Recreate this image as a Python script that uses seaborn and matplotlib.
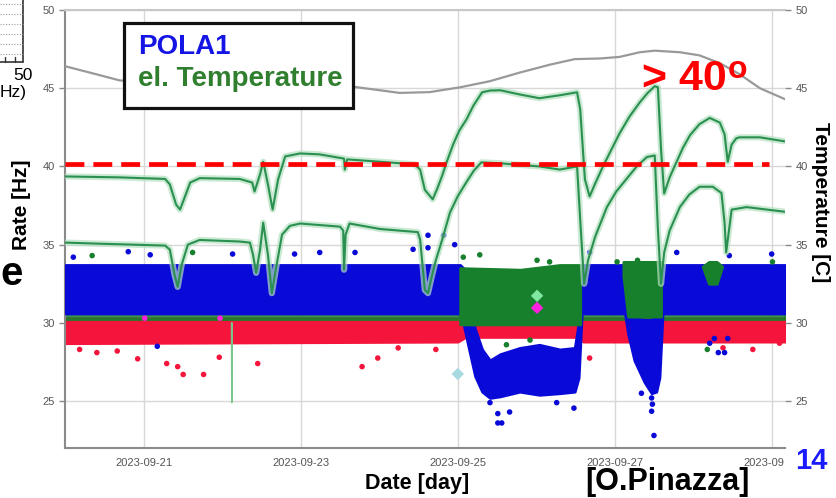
import numpy as np
import pandas as pd
import matplotlib
matplotlib.use("Agg")
import matplotlib.pyplot as plt
import matplotlib.dates as mdates
from matplotlib.patches import Rectangle
from matplotlib.lines import Line2D
import seaborn as sns

# ---------------- data (days since 2023-09-20 00:00) ----------------
BASE = pd.Timestamp("2023-09-20")

ambient_days = [0.0, 0.44, 0.69, 1.20, 2.22, 2.99, 3.66, 4.26, 4.64, 5.03, 5.41, 5.79,
                6.17, 6.49, 6.81, 7.06, 7.32, 7.51, 7.83, 8.08, 8.34, 8.59, 8.85, 9.17]
ambient_temp = [46.4, 45.83, 45.5, 45.3, 45.15, 45.05, 45.1, 44.7, 44.75, 45.06, 45.45, 46.0,
                46.5, 46.86, 46.9, 47.0, 47.3, 47.4, 47.3, 47.1, 46.6, 45.9, 45.0, 44.3]

elA_days = [0.0, 0.69, 1.27, 1.33, 1.41, 1.46, 1.51, 1.59, 1.71, 2.22, 2.38, 2.41, 2.48,
            2.52, 2.58, 2.64, 2.71, 2.80, 2.99, 3.24, 3.55, 3.56, 3.59, 4.01, 4.45, 4.52,
            4.58, 4.64, 4.68, 4.74, 4.80, 4.86, 4.94, 5.02, 5.11, 5.20, 5.31, 5.41, 5.54,
            5.79, 6.04, 6.30, 6.52, 6.56, 6.62, 6.68, 6.75, 6.85, 6.95, 7.06, 7.19, 7.32,
            7.42, 7.51, 7.55, 7.59, 7.63, 7.70, 7.78, 7.87, 7.96, 8.08, 8.21, 8.34, 8.40,
            8.44, 8.49, 8.55, 8.59, 8.85, 9.17]
elA_temp = [39.36, 39.3, 39.2, 38.85, 37.56, 37.24, 37.9, 38.97, 39.25, 39.2, 38.97, 38.4, 39.5,
            40.3, 38.85, 37.24, 39.17, 40.64, 40.83, 40.77, 40.5, 39.8, 40.45, 40.3, 40.13, 39.8,
            38.5, 38.14, 37.9, 38.6, 39.4, 40.3, 41.4, 42.3, 43.0, 43.9, 44.74, 44.85, 44.87,
            44.6, 44.36, 44.55, 44.74, 43.65, 39.17, 38.08, 38.9, 40.0, 41.0, 42.1, 43.2, 44.1,
            44.7, 45.13, 45.06, 41.1, 38.27, 39.3, 40.2, 41.2, 42.0, 42.7, 43.1, 42.8, 42.05,
            40.3, 41.4, 41.8, 41.86, 41.86, 41.6]

elB_days = [0.0, 0.44, 1.27, 1.33, 1.39, 1.43, 1.48, 1.56, 1.71, 2.22, 2.35, 2.39, 2.43,
            2.48, 2.52, 2.58, 2.63, 2.68, 2.76, 2.86, 2.99, 3.50, 3.54, 3.55, 3.57, 3.62,
            4.01, 4.49, 4.52, 4.58, 4.62, 4.67, 4.72, 4.80, 4.90, 5.00, 5.11, 5.20, 5.30,
            5.54, 6.04, 6.30, 6.52, 6.56, 6.61, 6.66, 6.75, 6.90, 7.02, 7.15, 7.28, 7.41,
            7.51, 7.55, 7.59, 7.63, 7.70, 7.83, 7.95, 8.08, 8.25, 8.36, 8.40, 8.42, 8.49,
            8.68, 9.17]
elB_temp = [35.13, 35.06, 34.94, 34.68, 33.08, 32.3, 33.7, 35.0, 35.3, 35.2, 35.13, 34.36, 33.2,
            34.68, 36.4, 34.36, 31.9, 33.4, 35.64, 36.2, 36.35, 36.15, 35.9, 33.4, 35.64, 36.35,
            36.0, 35.8, 35.32, 32.1, 31.9, 33.0, 34.0, 35.3, 37.05, 38.1, 39.0, 39.7, 40.26,
            40.2, 40.0, 39.8, 40.0, 36.6, 32.5, 34.0, 35.5, 37.4, 38.4, 39.2, 40.0, 40.6,
            40.7, 36.0, 32.5, 34.5, 35.9, 37.4, 38.2, 38.7, 38.7, 38.3, 36.4, 34.5, 37.24,
            37.4, 37.1]

glitch_days = [2.115, 2.12, 2.125]
glitch_temp = [30.0, 24.9, 30.0]

threshold_temp = 40.13
threshold_days = [0.0, 8.97]

# dense rate bands (lower / upper edge of the point clouds)
red_days = [0.0, 5.0, 5.1, 6.5, 6.6, 9.17]
red_low = [28.7, 28.8, 29.1, 29.1, 28.8, 28.8]
red_high = [30.3, 30.3, 30.5, 30.5, 30.3, 30.3]

green_days = [0.0, 9.17]
green_low = [30.2, 30.2]
green_high = [31.0, 31.0]

blue_days = [0.0, 5.03, 5.07, 5.13, 5.22, 5.31, 5.41, 5.54, 5.79, 6.04, 6.30, 6.49, 6.54,
             6.58, 7.13, 7.17, 7.25, 7.38, 7.47, 7.53, 7.57, 7.61, 9.17]
blue_low = [30.6, 30.6, 30.0, 28.6, 26.6, 25.6, 25.2, 25.3, 25.6, 25.4, 25.5, 25.6, 26.5,
            30.6, 30.6, 29.3, 27.6, 26.2, 25.5, 25.6, 26.5, 30.6, 30.6]
blue_high = [33.7, 33.7, 33.5, 31.5, 29.6, 28.3, 27.6, 28.0, 28.4, 28.6, 28.3, 28.4, 30.0,
             33.7, 33.7, 30.5, 30.3, 30.2, 30.2, 30.5, 33.7, 33.7, 33.7]

gplat_days = [5.03, 5.8, 6.3, 6.56]
gplat_low = [29.9, 29.9, 29.9, 29.9]
gplat_high = [33.5, 33.4, 33.7, 33.7]

gv_days = [7.11, 7.17, 7.59]
gv_low = [33.0, 30.4, 30.4]
gv_high = [33.9, 33.9, 33.9]

gbump_days = [8.12, 8.2, 8.3, 8.37]
gbump_low = [33.6, 32.5, 32.5, 33.6]
gbump_high = [33.6, 33.9, 33.9, 33.6]

red_pts_days = [0.18, 0.40, 0.66, 0.92, 1.29, 1.43, 1.50, 1.76, 1.96, 2.45, 3.78, 3.98,
                4.24, 4.72, 6.68, 8.38, 8.76, 9.10]
red_pts_rate = [28.3, 28.1, 28.2, 27.7, 27.4, 27.2, 26.7, 26.7, 27.8, 27.4, 27.2, 27.75,
                28.4, 28.3, 27.75, 28.4, 28.3, 28.7]

blue_pts_days = [0.10, 0.80, 1.08, 2.13, 2.92, 3.24, 3.69, 4.43, 4.62, 4.62, 4.82, 4.96,
                 6.68, 7.79, 8.46, 9.00, 8.21, 8.27, 8.32, 8.40, 8.44, 7.34, 7.47, 7.48,
                 7.47, 7.50, 5.41, 5.51, 5.56, 5.51, 5.66, 6.26, 6.48, 1.17]
blue_pts_rate = [34.2, 34.55, 34.35, 34.4, 34.4, 34.5, 34.5, 34.7, 34.8, 35.6, 35.6, 35.0,
                 34.5, 34.5, 34.3, 34.4, 28.7, 29.0, 28.1, 28.1, 29.0, 25.5, 25.2, 24.8,
                 24.35, 22.8, 24.9, 23.6, 23.6, 24.2, 24.3, 24.9, 24.55, 28.5]

green_pts_days = [5.07, 5.28, 6.01, 6.17, 5.62, 5.92, 8.18, 0.34, 1.62, 7.03, 7.29, 9.01]
green_pts_rate = [34.2, 34.35, 34.0, 33.9, 28.6, 28.9, 28.3, 34.3, 34.5, 33.9, 34.0, 33.9]

magenta_pts_days = [1.01, 1.97]
magenta_pts_rate = [30.3, 30.3]

diamond_days = [6.01, 6.01, 5.0]
diamond_rate = [31.73, 30.96, 26.73]
diamond_colors = ["#7fe8a0", "#ff20e0", "#a8d8e0"]

ytick_vals = [25, 30, 35, 40, 45, 50]


def to_dt(days):
    return BASE + pd.to_timedelta(np.asarray(days, dtype=float), unit="D")


# ---------------- style ----------------
sns.set_theme(style="white")
plt.rcParams["font.family"] = ["Liberation Sans", "DejaVu Sans"]

W, H = 837, 498
fig = plt.figure(figsize=(W / 100, H / 100), dpi=100)
fig.patch.set_facecolor("white")
ax = fig.add_axes([65 / W, 1 - 448 / H, 720 / W, 438 / H])

BLUE = "#0a0ad8"
RED = "#f5143c"
GREEN_PT = "#17802c"
GREEN_LN = "#2a9050"
HALO = "#b4e0bf"

# point clouds as bands
ax.fill_between(to_dt(red_days), red_low, red_high, color=RED, lw=2, edgecolor=RED, zorder=2)
ax.fill_between(to_dt(green_days), green_low, green_high, color=GREEN_PT, lw=1.5,
                edgecolor=GREEN_PT, alpha=0.85, zorder=2.5)
ax.fill_between(to_dt(blue_days), blue_low, blue_high, color=BLUE, lw=2, edgecolor=BLUE, zorder=3)
for dd, lo, hi in [(gplat_days, gplat_low, gplat_high), (gv_days, gv_low, gv_high),
                   (gbump_days, gbump_low, gbump_high)]:
    ax.fill_between(to_dt(dd), lo, hi, color=GREEN_PT, lw=2, edgecolor=GREEN_PT, zorder=4)

# outlier points
for dd, rr, c in [(red_pts_days, red_pts_rate, RED), (blue_pts_days, blue_pts_rate, BLUE),
                  (green_pts_days, green_pts_rate, GREEN_PT),
                  (magenta_pts_days, magenta_pts_rate, "#ff20e0")]:
    sns.scatterplot(x=to_dt(dd), y=rr, ax=ax, color=c, s=16, edgecolor="none", zorder=4.5)
sns.scatterplot(x=to_dt(diamond_days), y=diamond_rate, ax=ax, hue=diamond_colors,
                palette={c: c for c in diamond_colors}, marker="D", s=40,
                edgecolor="none", legend=False, zorder=4.6)

# temperature lines
amb = pd.DataFrame({"t": to_dt(ambient_days), "v": ambient_temp})
sns.lineplot(data=amb, x="t", y="v", ax=ax, color="#999999", lw=1.6, estimator=None, sort=False, zorder=5)
for d_, v_ in [(elA_days, elA_temp), (elB_days, elB_temp)]:
    df = pd.DataFrame({"t": to_dt(d_), "v": v_})
    sns.lineplot(data=df, x="t", y="v", ax=ax, color=HALO, lw=4.5, alpha=0.7,
                 estimator=None, sort=False, zorder=5)
    sns.lineplot(data=df, x="t", y="v", ax=ax, color=GREEN_LN, lw=1.5,
                 estimator=None, sort=False, zorder=5.2)
gl = pd.DataFrame({"t": to_dt(glitch_days), "v": glitch_temp})
sns.lineplot(data=gl, x="t", y="v", ax=ax, color="#7cc48e", lw=1.0, estimator=None, sort=False, zorder=4.8)

# threshold
ax.plot(to_dt(threshold_days), [threshold_temp] * 2, color="#ff0000", lw=3.4,
        linestyle=(0, (4.0, 1.9)), zorder=6)

# axes formatting
ax.set_xlim(to_dt([-0.006])[0], to_dt([9.17])[0])
ax.set_ylim(22, 50)
ax.set_yticks(ytick_vals)
ax.xaxis.set_major_locator(mdates.DayLocator(bymonthday=[21, 23, 25, 27, 29]))
ax.xaxis.set_major_formatter(mdates.DateFormatter("%Y-%m-%d"))
ax.grid(True, color="#d8d8d8", lw=1.0)
ax.set_axisbelow(True)
ax.set_xlabel("")
ax.set_ylabel("")
ax.tick_params(axis="both", labelsize=8, labelcolor="#555555", colors="#888888",
               length=4, width=1, direction="out")
ax.tick_params(axis="both", labelcolor="#555555")
for s in ["left", "bottom"]:
    ax.spines[s].set_color("#8a8a8a")
    ax.spines[s].set_linewidth(1.5)
ax.spines["top"].set_color("#c8c8c8")
ax.spines["top"].set_linewidth(1.5)
ax.spines["right"].set_visible(False)

ax2 = ax.twinx()
ax2.set_ylim(22, 50)
ax2.set_yticks(ytick_vals)
ax2.tick_params(axis="y", labelsize=8, labelcolor="#555555", colors="#888888", length=4, width=1)
ax2.tick_params(axis="y", labelcolor="#555555")
for s in ax2.spines.values():
    s.set_visible(False)
ax2.grid(False)

# ---------------- slide overlay ----------------
fx = lambda px: px / W
fy = lambda py: 1 - py / H

# cover cut-off tick label
fig.add_artist(Rectangle((fx(784), 0), 1 - fx(784), fy(452), transform=fig.transFigure,
                         facecolor="white", edgecolor="none", zorder=20))

# legend box
fig.add_artist(Rectangle((fx(124), fy(108)), fx(353) - fx(124), (108 - 23) / H,
                         transform=fig.transFigure, facecolor="white", edgecolor="#111111",
                         lw=2.3, zorder=21))
fig.text(fx(138), fy(47), "POLA1", color="#1414e6", fontsize=20, fontweight="bold",
         va="center", ha="left", zorder=22)
fig.text(fx(138), fy(79), "el. Temperature", color="#2f7f2f", fontsize=20, fontweight="bold",
         va="center", ha="left", zorder=22)

fig.text(fx(727), fy(79), "> 40", color="#ff0000", fontsize=31, fontweight="bold",
         ha="right", va="center", zorder=22)
fig.text(fx(738), fy(70), "o", color="#ff0000", fontsize=23, fontweight="bold",
         ha="center", va="center", zorder=22)

fig.text(fx(22), fy(205), "Rate [Hz]", rotation=90, fontsize=15, fontweight="bold",
         ha="center", va="center", color="black", zorder=22)
fig.text(fx(821), fy(202), "Temperature [C]", rotation=-90, fontsize=15, fontweight="bold",
         ha="center", va="center", color="black", zorder=22)
fig.text(fx(417), fy(483), "Date [day]", fontsize=15.5, fontweight="bold",
         ha="center", va="center", color="black", zorder=22)
fig.text(fx(667), fy(482), "[O.Pinazza]", fontsize=22, fontweight="bold",
         ha="center", va="center", color="black", zorder=22)
fig.text(fx(811), fy(461), "14", fontsize=21, fontweight="bold", color="#1a1aff",
         ha="center", va="center", zorder=22)
fig.text(fx(23), fy(274), "e", fontsize=29, fontweight="bold", ha="right", va="center",
         color="black", zorder=22)

# fragment of a neighbouring plot at the top-left corner
fig.add_artist(Line2D([fx(23), fx(23)], [1, fy(62)], transform=fig.transFigure, color="#333333", lw=1.2))
fig.add_artist(Line2D([0, fx(23)], [fy(62), fy(62)], transform=fig.transFigure, color="#333333", lw=1.2))
for yy in [4, 14, 24, 34, 44, 54]:
    fig.add_artist(Line2D([0, fx(23)], [fy(yy), fy(yy)], transform=fig.transFigure,
                          color="#999999", lw=0.8, linestyle=(0, (1, 1.5))))
for xx in [5, 15]:
    fig.add_artist(Line2D([fx(xx), fx(xx)], [fy(62), fy(57)], transform=fig.transFigure, color="#333333", lw=1))
fig.text(fx(23), fy(75), "50", fontsize=12.5, ha="center", va="center", color="black")
fig.text(fx(0), fy(92), "Hz)", fontsize=12.5, ha="left", va="center", color="black")

fig.savefig("out.png", dpi=100, facecolor="white")
